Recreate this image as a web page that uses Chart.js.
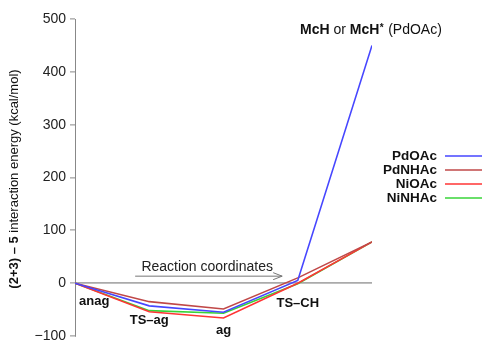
<!DOCTYPE html>
<html>
<head>
<meta charset="utf-8">
<script src="https://cdn.jsdelivr.net/npm/chart.js@4/dist/chart.umd.min.js"></script>
<style>
  html, body { margin: 0; padding: 0; background: #fff; }
  #wrap { width: 486px; height: 340px; }
</style>
</head>
<body>
<div id="wrap"><canvas id="energyChart" width="486" height="340"></canvas></div>
<script>
// reaction steps along the x axis
const steps = ['anag', 'TS\u2013ag', 'ag', 'TS\u2013CH', 'McH'];
const seriesNames = ['PdOAc', 'PdNHAc', 'NiOAc', 'NiNHAc'];
const seriesColors = ['#4646ff', '#c04848', '#ff3434', '#38d438'];

// interaction energies (kcal/mol) per step
const pdOAc  = [0, -43, -55, 5, 450];
const pdNHAc = [0, -35, -49, 10, 78];
const niOAc  = [0, -54, -66, 0, 78];
const niNHAc = [0, -52, -57, -1, 78];

const yTicks = [-100, 0, 100, 200, 300, 400, 500];

const FONT = '"Liberation Sans", Arial, Helvetica, sans-serif';

const allSeries = [pdOAc, pdNHAc, niOAc, niNHAc];
const datasets = allSeries.map((vals, i) => ({
  label: seriesNames[i],
  data: vals.map((v, k) => ({ x: k, y: v })),
  borderColor: seriesColors[i],
  borderWidth: 1.6,
  pointRadius: 0,
  tension: 0,
  fill: false
}));

// step labels, arrow, axis title and legend drawn on top of the plot
const decorations = {
  id: 'decorations',
  afterDraw(chart) {
    const c = chart.ctx;
    const xs = chart.scales.x, ys = chart.scales.y;
    const px = v => xs.getPixelForValue(v);
    const py = v => ys.getPixelForValue(v);
    const y0 = py(0);
    c.save();
    c.fillStyle = '#111';
    c.textBaseline = 'middle';

    // step names
    c.font = 'bold 13px ' + FONT;
    c.textAlign = 'left';
    c.fillText(steps[0], px(0) + 4, y0 + 18);
    c.textAlign = 'center';
    c.fillText(steps[1], px(1), y0 + 37);
    c.fillText(steps[2], px(2), y0 + 47);
    c.fillText(steps[3], px(3), y0 + 20);

    // McH or McH* (PdOAc)
    let x = px(4) - 72, y = 30;
    c.textAlign = 'left';
    const parts = [['bold 14px ', 'McH'], ['14px ', ' or '], ['bold 14px ', 'McH']];
    parts.forEach(([f, t]) => { c.font = f + FONT; c.fillText(t, x, y); x += c.measureText(t).width; });
    c.font = 'bold 10px ' + FONT; c.fillText('*', x + 0.5, y - 2); x += c.measureText('*').width + 1;
    c.font = '14px ' + FONT; c.fillText(' (PdOAc)', x, y);

    // reaction coordinate arrow
    const ay = y0 - 7;
    const ax0 = px(0.81), ax1 = px(2.79);
    c.strokeStyle = '#777';
    c.lineWidth = 1;
    c.beginPath();
    c.moveTo(ax0, ay); c.lineTo(ax1, ay);
    c.moveTo(ax1 - 9, ay - 3.5); c.lineTo(ax1, ay); c.lineTo(ax1 - 9, ay + 3.5);
    c.stroke();
    c.font = '14px ' + FONT;
    c.textAlign = 'center';
    c.fillStyle = '#222';
    c.fillText('Reaction coordinates', px(1.78), ay - 9);

    // legend
    c.font = 'bold 13.5px ' + FONT;
    c.textAlign = 'right';
    chart.data.datasets.forEach((ds, i) => {
      const ly = 156 + i * 14;
      c.fillStyle = '#111';
      c.fillText(ds.label, 437, ly);
      c.strokeStyle = ds.borderColor;
      c.lineWidth = 1.3;
      c.beginPath(); c.moveTo(445, ly); c.lineTo(482, ly); c.stroke();
    });

    // y axis title
    c.translate(14, 179);
    c.rotate(-Math.PI / 2);
    c.fillStyle = '#111';
    const t1 = '(2+3) \u2013 5';
    c.font = 'bold 13px ' + FONT;
    const w1 = c.measureText(t1).width;
    const t2 = ' interaction energy (kcal/mol)';
    c.font = '13px ' + FONT;
    const w2 = c.measureText(t2).width;
    const tx = -(w1 + w2) / 2;
    c.textAlign = 'left';
    c.font = 'bold 13px ' + FONT;
    c.fillText(t1, tx, 0);
    c.font = '13px ' + FONT;
    c.fillText(t2, tx + w1, 0);
    c.restore();
  }
};

new Chart(document.getElementById('energyChart'), {
  type: 'line',
  data: { datasets },
  options: {
    responsive: false,
    animation: false,
    layout: { padding: { top: 19, right: 114, bottom: 4, left: 0 } },
    plugins: { legend: { display: false }, tooltip: { enabled: false } },
    scales: {
      x: {
        type: 'linear',
        min: 0,
        max: steps.length - 1,
        display: false
      },
      y: {
        min: -100,
        max: 500,
        afterBuildTicks: s => { s.ticks = yTicks.map(v => ({ value: v })); },
        afterFit: s => { s.width = 75; s.paddingTop = 0; s.paddingBottom = 0; },
        border: { color: '#888', width: 1 },
        grid: {
          color: ctx => ctx.tick && ctx.tick.value === 0 ? '#aaa' : 'rgba(0,0,0,0)',
          lineWidth: 1.8,
          tickColor: '#888',
          tickLength: 5,
          tickWidth: 1
        },
        ticks: {
          color: '#222',
          padding: 4,
          font: { family: FONT, size: 14 },
          callback: v => v < 0 ? '\u2212' + Math.abs(v) : String(v)
        }
      }
    }
  },
  plugins: [decorations]
});
</script>
</body>
</html>
